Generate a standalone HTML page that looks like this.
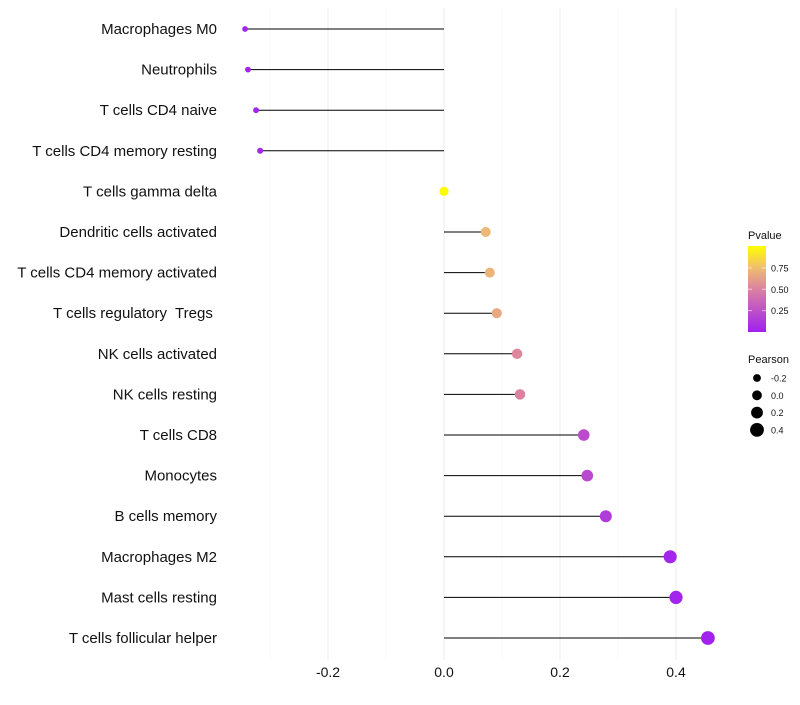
<!DOCTYPE html>
<html><head><meta charset="utf-8"><style>body{margin:0;background:#fff}svg text{font-family:"Liberation Sans",sans-serif;white-space:pre}</style></head><body>
<svg id="chart" width="800" height="700"></svg>
<script>
const categories=["Macrophages M0","Neutrophils","T cells CD4 naive","T cells CD4 memory resting","T cells gamma delta","Dendritic cells activated","T cells CD4 memory activated","T cells regulatory  Tregs ","NK cells activated","NK cells resting","T cells CD8","Monocytes","B cells memory","Macrophages M2","Mast cells resting","T cells follicular helper"];
const pearson=[-0.343,-0.338,-0.324,-0.317,0.0,0.072,0.079,0.091,0.126,0.131,0.241,0.247,0.279,0.390,0.400,0.455];
const pvalue=[0.02,0.02,0.03,0.03,0.99,0.72,0.70,0.66,0.52,0.50,0.22,0.21,0.14,0.03,0.02,0.01];
const xTicks=[-0.2,0.0,0.2,0.4];
const xTickLabels=["-0.2","0.0","0.2","0.4"];
const xMinor=[-0.3,-0.1,0.1,0.3];
const sizeLegend=[-0.2,0.0,0.2,0.4];
const colorTicks=[0.25,0.5,0.75];
const NS="http://www.w3.org/2000/svg",svg=document.getElementById('chart');
const X=v=>444+v*580, Y=i=>29+i*40.6, R=v=>Math.max(1.8,4.6+5*v);
function col(p){const s=[[0,[160,32,240]],[0.5,[220,130,160]],[0.75,[240,190,110]],[1,[255,255,0]]];
for(let k=1;k<s.length;k++){if(p<=s[k][0]){const a=s[k-1],b=s[k],t=(p-a[0])/(b[0]-a[0]);return 'rgb('+a[1].map((c,j)=>Math.round(c+(b[1][j]-c)*t)).join(',')+')';}}return 'rgb(255,255,0)';}
function el(t,a,txt){const e=document.createElementNS(NS,t);for(const k in a)e.setAttribute(k,a[k]);if(txt!=null)e.textContent=txt;svg.appendChild(e);return e;}
xMinor.forEach(v=>{const g=el('line',{x1:X(v),x2:X(v),y1:8,y2:660,stroke:'#f3f3f3','stroke-width':0.6});

});
xTicks.forEach((v,i)=>{const g=el('line',{x1:X(v),x2:X(v),y1:8,y2:660,stroke:'#ededed','stroke-width':1});


const t=el('text',{x:X(v),y:677,'text-anchor':'middle','font-size':14,fill:'#111'},xTickLabels[i]);

});
categories.forEach((c,i)=>{
const t=el('text',{x:217,y:Y(i)+5,'text-anchor':'end','font-size':15,fill:'#111'},c);


const l=el('line',{x1:X(0),x2:X(pearson[i]),y1:Y(i),y2:Y(i),stroke:'#000','stroke-width':1});


const p=el('circle',{cx:X(pearson[i]),cy:Y(i),r:R(pearson[i]),fill:col(pvalue[i])});

});
const defs=el('defs',{});defs.innerHTML='<linearGradient id="pg" x1="0" y1="1" x2="0" y2="0"><stop offset="0" stop-color="rgb(160,32,240)"/><stop offset="0.5" stop-color="rgb(220,130,160)"/><stop offset="0.75" stop-color="rgb(240,190,110)"/><stop offset="1" stop-color="rgb(255,255,0)"/></linearGradient>';
const lt=el('text',{x:748,y:239,'font-size':11,fill:'#111'},'Pvalue');


const cb=el('rect',{x:748,y:246,width:18,height:86,fill:'url(#pg)'});


colorTicks.forEach(v=>{const y=332-v*85.5;
el('line',{x1:748,x2:752,y1:y,y2:y,stroke:'#fff','stroke-opacity':0.6});el('line',{x1:762,x2:766,y1:y,y2:y,stroke:'#fff','stroke-opacity':0.6});
const t=el('text',{x:771,y:y+3.5,'font-size':9,fill:'#111'},v.toFixed(2));

});
const st=el('text',{x:748,y:363,'font-size':11,fill:'#111'},'Pearson');


sizeLegend.forEach((v,i)=>{const y=378+i*17.3;
const c=el('circle',{cx:757,cy:y,r:R(v)+0.3,fill:'#000'});


const t=el('text',{x:771,y:y+3.5,'font-size':9,fill:'#111'},v.toFixed(1));

});
</script>
</body></html>
